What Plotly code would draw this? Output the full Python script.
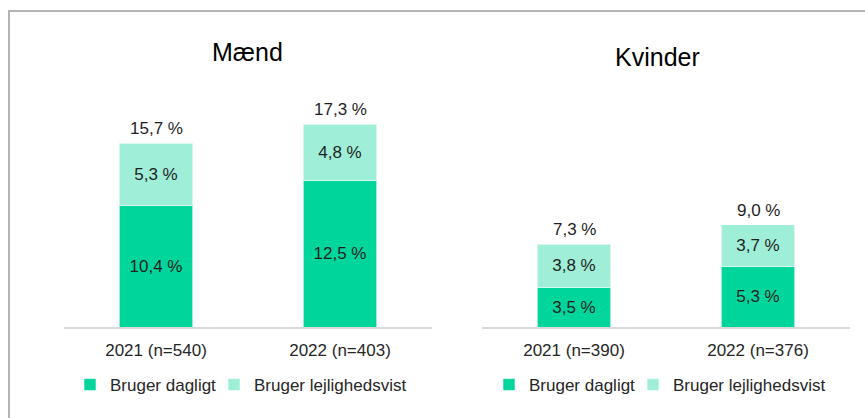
import plotly.graph_objects as go

categories_m = ["2021 (n=540)", "2022 (n=403)"]
categories_k = ["2021 (n=390)", "2022 (n=376)"]
daily_m = [10.4, 12.5]
occasional_m = [5.3, 4.8]
daily_k = [3.5, 5.3]
occasional_k = [3.8, 3.7]
series_names = ["Bruger dagligt", "Bruger lejlighedsvist"]
panel_titles = ["Mænd", "Kvinder"]

C_DARK = "#00D69B"
C_LIGHT = "#9FEED8"
FONT = "Liberation Sans, Arial, sans-serif"
TXT = "#1F1F1F"
W, H = 865, 418

fig = go.Figure()

panels = [
    (categories_m, daily_m, occasional_m, "x", "y", "legend"),
    (categories_k, daily_k, occasional_k, "x2", "y2", "legend2"),
]
for cats, d, o, xa, ya, lg in panels:
    for vals, name, col, lw in [(d, series_names[0], C_DARK, 99), (o, series_names[1], C_LIGHT, None)]:
        fig.add_trace(go.Bar(
            x=cats, y=vals, name=name, xaxis=xa, yaxis=ya, legend=lg, legendwidth=lw,
            marker=dict(color=col, line=dict(color="rgba(255,255,255,0.6)", width=1)),
            texttemplate="%{y:.1f} %", textposition="inside", insidetextanchor="middle",
            textfont=dict(size=17, color=TXT, family=FONT),
            hoverinfo="skip",
        ))
    for c, a, b in zip(cats, d, o):
        fig.add_annotation(x=c, y=a + b, xref=xa, yref=ya, text=f"{a + b:.1f} %".replace(".", ","),
                           showarrow=False, yanchor="bottom", yshift=3,
                           font=dict(size=17, color=TXT, family=FONT))

def fx(px):
    return px / W

def fy(py):
    return 1 - py / H

ydom = [fy(327), fy(40)]
axis_common = dict(showline=True, linecolor="#D9D9D9", linewidth=2, ticks="outside", ticklen=7,
                   tickcolor="rgba(0,0,0,0)", tickfont=dict(size=17, color="#262626", family=FONT),
                   showgrid=False, fixedrange=True)
yaxis_common = dict(visible=False, showgrid=False, fixedrange=True)
legend_common = dict(orientation="h", xanchor="left", yanchor="middle", y=fy(385),
                     font=dict(size=17, color="#262626", family=FONT), itemwidth=30,
                     traceorder="normal", bgcolor="rgba(0,0,0,0)")

fig.update_layout(
    width=W, height=H, barmode="stack", bargap=0.6,
    separators=",.",
    paper_bgcolor="white", plot_bgcolor="white",
    margin=dict(l=0, r=0, t=0, b=0),
    font=dict(family=FONT, color="#262626"),
    xaxis=dict(domain=[fx(64), fx(432)], anchor="y", **axis_common),
    xaxis2=dict(domain=[fx(482), fx(850)], anchor="y2", **axis_common),
    yaxis=dict(domain=ydom, range=[0, 24.5], anchor="x", **yaxis_common),
    yaxis2=dict(domain=ydom, range=[0, 25.3], anchor="x2", **yaxis_common),
    legend=dict(x=fx(70), **legend_common),
    legend2=dict(x=fx(489), **legend_common),
    showlegend=True,
)

fig.add_annotation(x=fx(247), y=fy(52), xref="paper", yref="paper", text=panel_titles[0],
                   xanchor="center", yanchor="middle",
                   showarrow=False, font=dict(size=25, color="#000000", family=FONT))
fig.add_annotation(x=fx(657), y=fy(57), xref="paper", yref="paper", text=panel_titles[1],
                   xanchor="center", yanchor="middle",
                   showarrow=False, font=dict(size=25, color="#000000", family=FONT))

# outer frame (top and left edges)
fig.add_shape(type="line", xref="paper", yref="paper", x0=fx(8), x1=1, y0=fy(11), y1=fy(11),
              line=dict(color="#B4B4B4", width=2))
fig.add_shape(type="line", xref="paper", yref="paper", x0=fx(9), x1=fx(9), y0=fy(10), y1=0,
              line=dict(color="#B4B4B4", width=2))

fig.write_html("out.html", config={"displayModeBar": False},
               post_script="document.body.style.margin='0px';")
